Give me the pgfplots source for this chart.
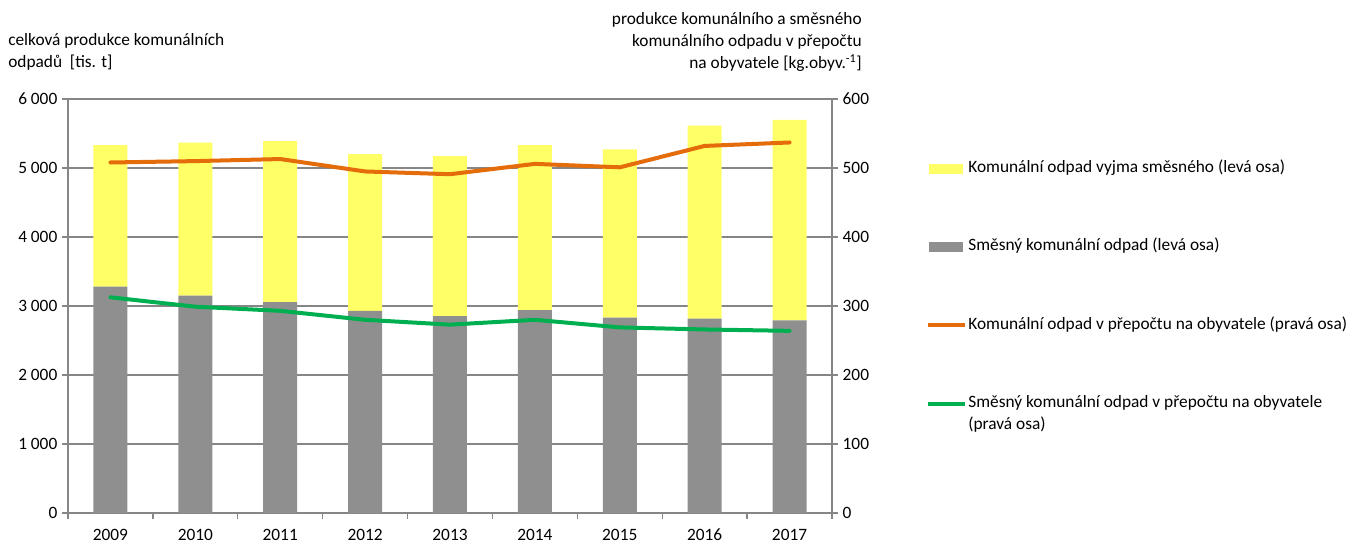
\documentclass[border=0pt]{standalone}
\usepackage{pgfplots}
\pgfplotsset{compat=1.18}
\usepackage{fontspec}
\setmainfont{Carlito}
\definecolor{barY}{RGB}{255,255,102}
\definecolor{barG}{RGB}{143,143,143}
\definecolor{lineO}{RGB}{228,108,10}
\definecolor{lineG}{RGB}{0,176,80}
\definecolor{gridc}{RGB}{134,134,134}
\newcommand{\fs}{\fontsize{13}{16.3}\selectfont}
\begin{document}
\begin{tikzpicture}[font=\fs]
\pgfplotsset{
  base/.style={scale only axis, width=573pt, height=310.5pt, at={(0,0)}, anchor=south west,
    xmin=-0.5, xmax=8.5,
    /pgf/number format/assume math mode=true,
    tick label style={font=\fs},
    axis line style={draw=gridc, line width=1pt, -},
    tick style={draw=gridc, line width=1pt},
    tick align=outside, major tick length=4.5pt},
}
\useasboundingbox (-51pt,-23.25pt) rectangle (960.75pt,384.75pt);
\begin{axis}[base, ybar stacked, bar width=25.5pt,
  ymin=0, ymax=6000, ytick={0,1000,...,6000},
  yticklabel style={/pgf/number format/1000 sep={\hspace{0.22em}}},
  axis y line*=left, axis x line*=bottom,
  xtick={-0.5,0.5,...,8.5}, xticklabels={},
  extra x ticks={0,1,2,3,4,5,6,7,8},
  extra x tick labels={2009,2010,2011,2012,2013,2014,2015,2016,2017},
  extra x tick style={major tick length=0pt, xticklabel style={text height=9pt, text depth=2pt, yshift=-8pt}},
  ymajorgrids, grid style={draw=gridc, line width=1pt}]
\addplot[fill=barG, draw=none] coordinates {(0,3280) (1,3150) (2,3058) (3,2928) (4,2855) (5,2942) (6,2831) (7,2816) (8,2792)};
\addplot[fill=barY, draw=none] coordinates {(0,2053) (1,2217) (2,2333) (3,2275) (4,2319) (5,2391) (6,2440) (7,2797) (8,2904)};
\end{axis}
\begin{axis}[base, ymin=0, ymax=600, ytick={0,100,...,600},
  axis y line*=right, axis x line=none,
  legend image code/.code={\draw[#1, line cap=butt] (0pt,0pt) -- (28pt,0pt);},
  legend style={draw=none, fill=none, at={(1.117,0.862)}, anchor=north west,
    row sep=44.8pt, font=\fs, nodes={text height=9pt, text depth=3pt, inner sep=1pt}},
  legend cell align=left]
\addlegendimage{legend image code/.code={\fill[barY] (1pt,-3.4pt) rectangle (26pt,3.4pt);}}
\addlegendimage{legend image code/.code={\fill[barG] (1pt,-3.4pt) rectangle (26pt,3.4pt);}}
\addplot[lineO, line width=3pt, line join=round, line cap=round] coordinates {(0,508) (1,510) (2,513) (3,495) (4,491) (5,506) (6,501) (7,532) (8,537)};
\addplot[lineG, line width=3pt, line join=round, line cap=round] coordinates {(0,312.6) (1,299) (2,293) (3,280) (4,273) (5,280) (6,269) (7,266) (8,264)};
\legend{Komunální odpad vyjma směsného (levá osa),
  Směsný komunální odpad (levá osa),
  Komunální odpad v přepočtu na obyvatele (pravá osa),
  {\begin{tabular}[t]{@{}l@{}}Směsný komunální odpad v přepočtu na obyvatele\\(pravá osa)\end{tabular}}}
\end{axis}
\node[anchor=north west, align=left, inner sep=0pt, font=\fontsize{13}{16.8}\selectfont] at (-45pt,360pt) {celková produkce komunálních\\odpadů\ \ [tis. t]};
\node[anchor=north east, align=right, inner sep=0pt, font=\fs] at (595.5pt,375.5pt) {produkce komunálního a směsného\\komunálního odpadu v přepočtu\\na obyvatele [kg.obyv.\textsuperscript{-1}]};
\end{tikzpicture}
\end{document}
